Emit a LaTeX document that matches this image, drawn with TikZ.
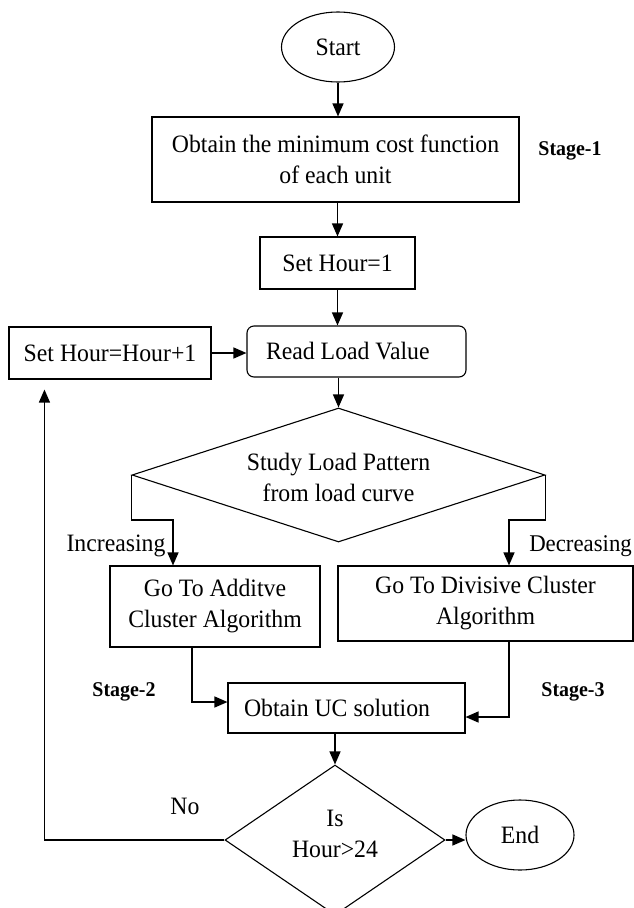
\documentclass[tikz,border=0pt]{standalone}
\usepackage{fontspec}
\setmainfont{Liberation Serif}[FakeStretch=0.95]
\usetikzlibrary{shapes.geometric,arrows.meta}
\tikzset{
  base/.style={draw=black, line width=1.1pt, inner sep=0pt, font=\fontsize{25}{31}\selectfont},
  boxnode/.style={base, rectangle, align=center},
  ovalnode/.style={base, ellipse},
  dianode/.style={base, diamond, align=center},
  lbl/.style={inner sep=0pt, font=\fontsize{25}{31}\selectfont},
  stagelbl/.style={inner sep=0pt, font=\fontsize{21}{26}\selectfont\bfseries},
  arr/.style={line width=1.3pt, -{Triangle[length=13pt,width=11pt]}},
}
\begin{document}
\begin{tikzpicture}[x=1pt,y=-1pt]
\useasboundingbox (0,0) rectangle (634,908);
% nodes
\node[ovalnode, minimum width=113pt, minimum height=70pt] (start) at (338,47) {Start};
\node[boxnode, minimum width=367pt, minimum height=85pt] (obtain) at (335.5,159.5) {Obtain the minimum cost function\\of each unit};
\node[stagelbl] (st1) at (570,151) {Stage-1};
\node[boxnode, minimum width=155pt, minimum height=52pt] (set1) at (337.5,263) {Set Hour=1};
\node[boxnode, rounded corners=7pt, minimum height=51pt, text width=181pt, inner xsep=19pt, align=flush left] (read) at (356.5,351.5) {Read Load Value};
\node[boxnode, minimum width=202pt, minimum height=52pt] (inc) at (110,353) {Set Hour=Hour+1};
\node[dianode, minimum width=413pt, minimum height=134pt] (study) at (338.5,475) {};
\node[lbl, align=center] (studyt) at (338.5,477) {Study Load Pattern\\from load curve};
\node[lbl] (incl) at (116,546) {Increasing};
\node[lbl, anchor=east, font=\fontsize{24}{30}\selectfont] (decl) at (632,546) {Decreasing};
\node[boxnode, minimum width=210pt, minimum height=81pt] (add) at (215,606.5) {Go To Additve\\Cluster Algorithm};
\node[boxnode, minimum width=295pt, minimum height=75pt] (div) at (485.5,603.5) {Go To Divisive Cluster\\Algorithm};
\node[stagelbl] (st2) at (124,692) {Stage-2};
\node[stagelbl] (st3) at (573,692) {Stage-3};
\node[boxnode, minimum height=50pt, text width=205pt, inner xsep=16pt, align=flush left] (uc) at (346.5,708) {Obtain UC solution};
\node[dianode, minimum width=220pt, minimum height=150pt] (hour) at (335,840) {};
\node[lbl, align=center] (hourt) at (335,834) {Is\\Hour>24};
\node[lbl] (nol) at (185,806) {No};
\node[ovalnode, minimum width=108pt, minimum height=70pt] (end) at (520,835) {End};
% connectors
\draw[arr] (start.south) -- (start.south |- obtain.north);
\draw[arr] (obtain.south -| set1.north) -- (set1.north);
\draw[arr] (set1.south) -- (set1.south |- read.north);
\draw[arr] (inc.east) -- (inc.east -| read.west);
\draw[arr] (read.south -| study.north) -- (study.north);
\draw[arr] (study.west) |- (173,520) -- (173,520 |- add.north);
\draw[arr] (study.east) |- (509,520) -- (509,520 |- div.north);
\draw[arr] (192,647) |- (uc.west |- 0,702);
\draw[arr] (509,641) |- (uc.east |- 0,717);
\draw[arr] (uc.south -| hour.north) -- (hour.north);
\draw[arr, shorten >=10pt] (hour.west) -| ([xshift=36pt]inc.south west);
\draw[arr] (hour.east) -- (hour.east -| end.west);
\end{tikzpicture}
\end{document}
